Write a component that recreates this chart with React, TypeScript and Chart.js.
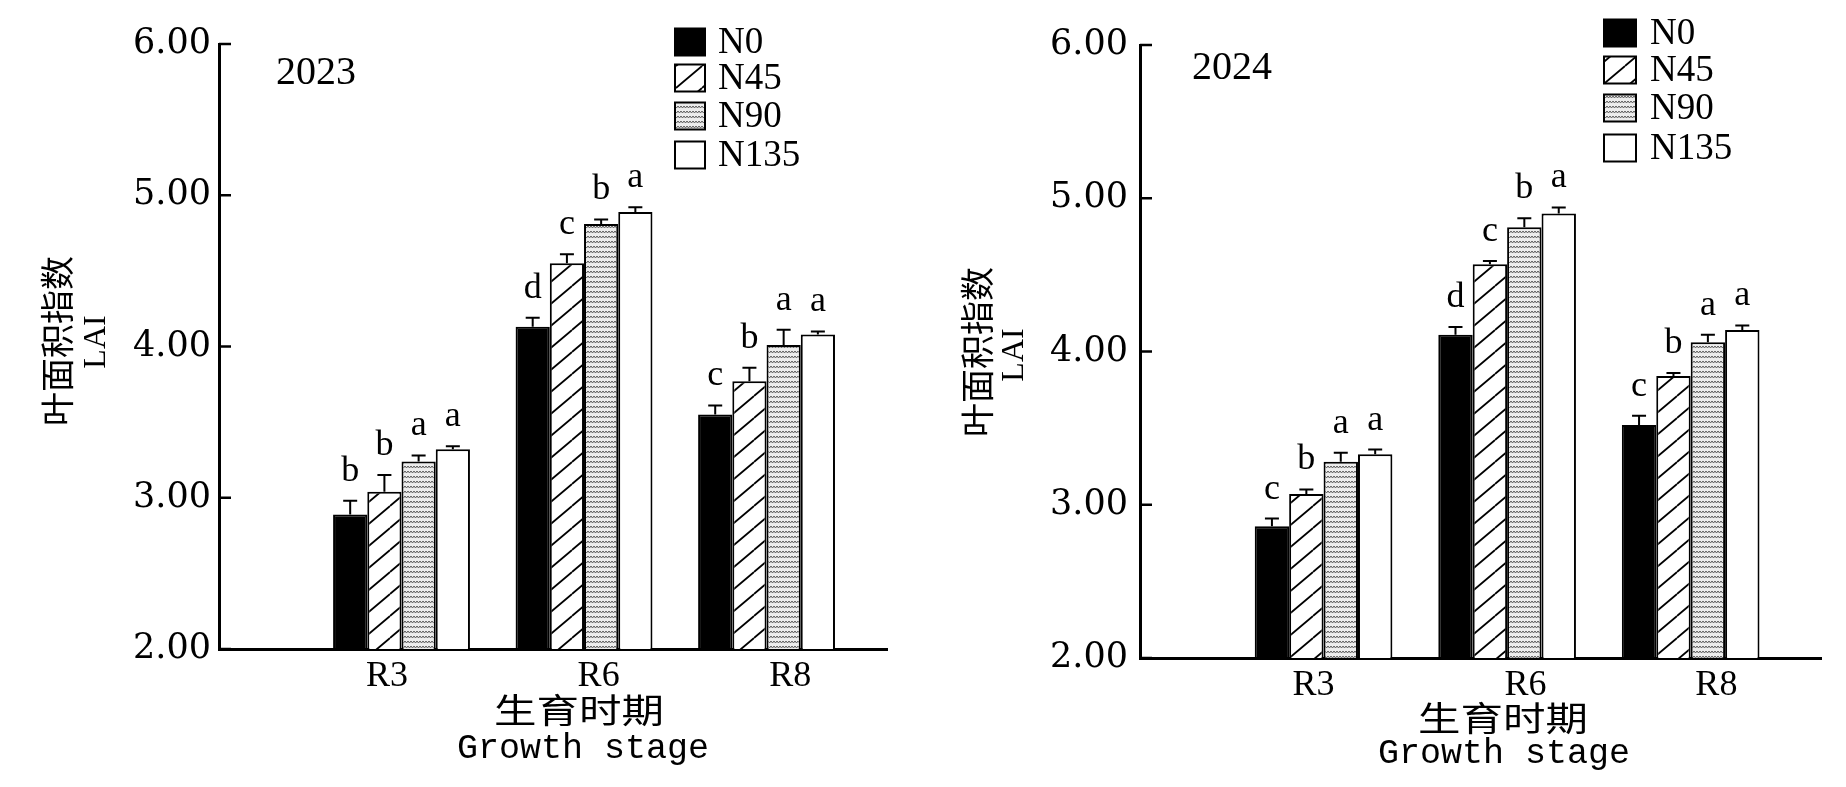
import React, { useEffect, useRef } from "react";
import { Chart, registerables } from "chart.js";

Chart.register(...registerables);

// categories
const stages = ["R3", "R6", "R8"];
const stagePos = [1, 2, 3];
const treatments = ["N0", "N45", "N90", "N135"];

// 2023 LAI
const lai2023N0 = [2.89, 4.13, 3.55];
const lai2023N45 = [3.04, 4.55, 3.77];
const lai2023N90 = [3.24, 4.81, 4.01];
const lai2023N135 = [3.32, 4.89, 4.08];
const err2023N0 = [0.09, 0.06, 0.06];
const err2023N45 = [0.11, 0.06, 0.09];
const err2023N90 = [0.04, 0.03, 0.1];
const err2023N135 = [0.02, 0.03, 0.02];
const sig2023N0 = ["b", "d", "c"];
const sig2023N45 = ["b", "c", "b"];
const sig2023N90 = ["a", "b", "a"];
const sig2023N135 = ["a", "a", "a"];

// 2024 LAI
const lai2024N0 = [2.86, 4.11, 3.52];
const lai2024N45 = [3.07, 4.57, 3.84];
const lai2024N90 = [3.28, 4.81, 4.06];
const lai2024N135 = [3.33, 4.9, 4.14];
const err2024N0 = [0.05, 0.05, 0.06];
const err2024N45 = [0.03, 0.02, 0.02];
const err2024N90 = [0.06, 0.06, 0.05];
const err2024N135 = [0.03, 0.04, 0.03];
const sig2024N0 = ["c", "d", "c"];
const sig2024N45 = ["b", "c", "b"];
const sig2024N90 = ["a", "b", "a"];
const sig2024N135 = ["a", "a", "a"];

const W = 923;
const H = 787;

interface PanelLayout {
  area: { left: number; top: number; right: number; bottom: number };
  xMax: number;
  labelAt: number[];
  yTickPad: number;
  legendBox: number;
  legendText: number;
  legendBoxW: number;
  legendRows: number[];
  year: [number, number];
  yTitle: [number, number, number, number]; // cn x, cn y, LAI x, LAI y
  xTitle: [number, number, number, number]; // cn x, cn y, en x, en baseline
}

const leftLayout: PanelLayout = {
  area: { left: 219, top: 44, right: 887, bottom: 649 },
  xMax: 3.66,
  labelAt: [0.92, 2.08, 3.13],
  yTickPad: 8,
  legendBox: 675,
  legendText: 718,
  legendBoxW: 30,
  legendRows: [42, 78, 116, 155],
  year: [316, 84],
  yTitle: [57, 341, 97, 342],
  xTitle: [579, 710, 583, 758],
};

const rightLayout: PanelLayout = {
  area: { left: 217, top: 45, right: 898, bottom: 658 },
  xMax: 3.71,
  labelAt: [0.945, 2.1, 3.14],
  yTickPad: 12,
  legendBox: 681,
  legendText: 727,
  legendBoxW: 32,
  legendRows: [33, 70, 108, 148],
  year: [309, 79],
  yTitle: [54, 352, 92, 355],
  xTitle: [580, 718, 581, 763],
};

function hatchPattern(ctx: CanvasRenderingContext2D) {
  const c = document.createElement("canvas");
  c.width = 26;
  c.height = 22;
  const g = c.getContext("2d")!;
  g.fillStyle = "#fff";
  g.fillRect(0, 0, 26, 22);
  g.strokeStyle = "#000";
  g.lineWidth = 1.8;
  for (const k of [-1, 0, 1]) {
    g.beginPath();
    g.moveTo(0, 22 + 22 * k);
    g.lineTo(26, 22 * k);
    g.stroke();
  }
  return ctx.createPattern(c, "repeat")!;
}

function speckPattern(ctx: CanvasRenderingContext2D) {
  const c = document.createElement("canvas");
  c.width = 6;
  c.height = 5;
  const g = c.getContext("2d")!;
  g.fillStyle = "#ececec";
  g.fillRect(0, 0, 6, 5);
  g.strokeStyle = "#5a5a5a";
  g.lineWidth = 1;
  g.beginPath();
  g.moveTo(0, 1);
  g.lineTo(1.5, 3);
  g.lineTo(3, 1);
  g.lineTo(4.5, 3);
  g.lineTo(6, 1);
  g.stroke();
  return ctx.createPattern(c, "repeat")!;
}

interface PanelProps {
  year: string;
  values: number[][];
  errors: number[][];
  letters: string[][];
  layout: PanelLayout;
}

const Panel = (props: PanelProps) => {
  const canvasRef = useRef<HTMLCanvasElement | null>(null);
  const chartRef = useRef<Chart | null>(null);

  useEffect(() => {
    const canvas = canvasRef.current;
    const ctx = canvas?.getContext("2d");
    if (!canvas || !ctx) return;
    if (chartRef.current) chartRef.current.destroy();

    const L = props.layout;
    const fills: (string | CanvasPattern)[] = ["#000", hatchPattern(ctx), speckPattern(ctx), "#fff"];

    const decor = {
      id: "decor",
      afterDraw(chart: Chart) {
        const c = chart.ctx;
        const y = chart.scales.y;
        const area = chart.chartArea;
        c.save();
        c.fillStyle = "#000";
        c.strokeStyle = "#000";

        // inward y ticks
        c.lineWidth = 2.5;
        y.ticks.forEach((t) => {
          const py = y.getPixelForValue(t.value);
          c.beginPath();
          c.moveTo(area.left, py);
          c.lineTo(area.left + 12, py);
          c.stroke();
        });

        // error bars and letters
        chart.data.datasets.forEach((ds, di) => {
          const meta = chart.getDatasetMeta(di);
          meta.data.forEach((bar: any, i) => {
            const v = (ds.data[i] as any).y as number;
            const top = y.getPixelForValue(v + props.errors[di][i]);
            c.lineWidth = 2;
            c.beginPath();
            c.moveTo(bar.x, bar.y);
            c.lineTo(bar.x, top);
            c.moveTo(bar.x - 7, top);
            c.lineTo(bar.x + 7, top);
            c.stroke();
            c.font = "36px 'Liberation Serif'";
            c.textAlign = "center";
            c.textBaseline = "alphabetic";
            c.fillText(props.letters[di][i], bar.x, top - 20);
          });
        });

        // legend
        treatments.forEach((t, k) => {
          const row = L.legendRows[k];
          c.fillStyle = fills[k] as any;
          c.fillRect(L.legendBox, row - 13.5, L.legendBoxW, 27);
          c.lineWidth = 2;
          c.strokeRect(L.legendBox, row - 13.5, L.legendBoxW, 27);
          c.fillStyle = "#000";
          c.font = "37px 'Liberation Serif'";
          c.textAlign = "left";
          c.textBaseline = "alphabetic";
          c.fillText(t, L.legendText, row + 11);
        });

        // year
        c.font = "40px 'Liberation Serif'";
        c.textAlign = "center";
        c.fillText(props.year, L.year[0], L.year[1]);

        // y title
        c.save();
        c.translate(L.yTitle[0], L.yTitle[1]);
        c.rotate(-Math.PI / 2);
        c.font = "34px 'Noto Sans CJK SC'";
        c.textBaseline = "middle";
        c.fillText("叶面积指数", 0, 0);
        c.restore();
        c.save();
        c.translate(L.yTitle[2], L.yTitle[3]);
        c.rotate(-Math.PI / 2);
        c.font = "32px 'Liberation Serif'";
        c.textBaseline = "middle";
        c.fillText("LAI", 0, 0);
        c.restore();

        // x title
        c.save();
        c.translate(L.xTitle[0], L.xTitle[1]);
        c.scale(1.25, 1);
        c.font = "34px 'Noto Sans CJK SC'";
        c.textBaseline = "middle";
        c.fillText("生育时期", 0, 0);
        c.restore();
        c.font = "35px 'Liberation Mono'";
        c.textBaseline = "alphabetic";
        c.fillText("Growth stage", L.xTitle[2], L.xTitle[3]);

        c.restore();
      },
    };

    chartRef.current = new Chart(ctx, {
      type: "bar",
      data: {
        datasets: treatments.map((t, k) => ({
          label: t,
          data: stagePos.map((x, i) => ({ x, y: props.values[k][i] })),
          backgroundColor: fills[k] as any,
          borderColor: "#000",
          borderWidth: 2,
          borderSkipped: "start" as const,
          barPercentage: 1,
          categoryPercentage: 0.75,
        })),
      },
      options: {
        animation: false,
        responsive: false,
        events: [],
        layout: {
          padding: { left: 0, top: L.area.top, right: W - L.area.right, bottom: 0 },
        },
        plugins: {
          legend: { display: false },
          tooltip: { enabled: false },
        },
        scales: {
          x: {
            type: "linear",
            min: 0,
            max: L.xMax,
            offset: false,
            z: 1,
            grid: { display: false, drawTicks: false, offset: false },
            border: { display: true, color: "#000", width: 3 },
            afterBuildTicks: (s: any) => {
              s.ticks = L.labelAt.map((v) => ({ value: v }));
            },
            afterFit: (s: any) => {
              s.height = H - L.area.bottom;
            },
            ticks: {
              autoSkip: false,
              maxRotation: 0,
              padding: 6,
              color: "#000",
              font: { family: "'Liberation Serif'", size: 36 },
              callback: (_v: any, i: number) => stages[i],
            },
          },
          y: {
            type: "linear",
            min: 2,
            max: 6,
            z: 1,
            grid: { display: false, drawTicks: false },
            border: { display: true, color: "#000", width: 3 },
            afterFit: (s: any) => {
              s.width = L.area.left;
            },
            ticks: {
              stepSize: 1,
              padding: L.yTickPad,
              color: "#000",
              font: { family: "'DejaVu Serif'", size: 35 },
              callback: (v: any) => Number(v).toFixed(2),
            },
          },
        },
      },
      plugins: [decor],
    });

    return () => {
      if (chartRef.current) {
        chartRef.current.destroy();
        chartRef.current = null;
      }
    };
  }, []);

  return <canvas ref={canvasRef} width={W} height={H} style={{ display: "block" }} />;
};

export default function App() {
  return (
    <div
      style={{
        position: "absolute",
        left: 0,
        top: 0,
        width: 2 * W,
        height: H,
        display: "flex",
        background: "#fff",
      }}
    >
      <Panel
        year="2023"
        values={[lai2023N0, lai2023N45, lai2023N90, lai2023N135]}
        errors={[err2023N0, err2023N45, err2023N90, err2023N135]}
        letters={[sig2023N0, sig2023N45, sig2023N90, sig2023N135]}
        layout={leftLayout}
      />
      <Panel
        year="2024"
        values={[lai2024N0, lai2024N45, lai2024N90, lai2024N135]}
        errors={[err2024N0, err2024N45, err2024N90, err2024N135]}
        letters={[sig2024N0, sig2024N45, sig2024N90, sig2024N135]}
        layout={rightLayout}
      />
    </div>
  );
}
